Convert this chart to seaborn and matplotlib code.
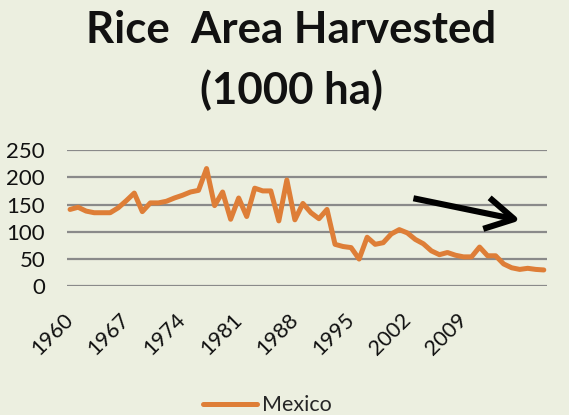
import matplotlib
matplotlib.use("Agg")
import matplotlib.pyplot as plt
import seaborn as sns
import pandas as pd

years = list(range(1960, 2020))
mexico = [141, 145, 138, 135, 135, 135, 144, 157, 171, 137,
          153, 153, 156, 162, 167, 173, 176, 216, 148, 173,
          123, 162, 128, 180, 175, 175, 120, 195, 122, 152,
          135, 124, 141, 77, 73, 71, 50, 90, 77, 80,
          96, 104, 98, 86, 78, 65, 58, 62, 57, 54,
          54, 72, 56, 56, 41, 34, 31, 33, 31, 30]
tick_years = [1960, 1967, 1974, 1981, 1988, 1995, 2002, 2009]
y_ticks = [0, 50, 100, 150, 200, 250]
series_name = "Mexico"
title_text = "Rice  Area Harvested\n(1000 ha)"

BG = "#ECEFE0"
LINE = "#DE7E37"
GRID = "#8A8A8A"

df = pd.DataFrame({"year": years, "value": mexico, "series": series_name})

sns.set_theme(style="white")
plt.rcParams["font.family"] = ["Lato", "DejaVu Sans"]

fig = plt.figure(figsize=(5.69, 4.15), dpi=100, facecolor=BG)
ax = fig.add_axes([0.1183, 0.3101, 0.8425, 0.3284])
ax.set_facecolor(BG)

sns.lineplot(data=df, x="year", y="value", hue="series", palette=[LINE],
             linewidth=3.6, ax=ax, legend=False)

ax.set_xlim(1959.66, 2019.36)
ax.set_ylim(0, 250)
ax.set_yticks(y_ticks)
ax.set_yticklabels([str(v) for v in y_ticks], fontsize=16, color="#111111")
ax.set_xticks(tick_years)
ax.set_xticklabels([str(v) for v in tick_years], fontsize=15.5, color="#111111",
                   rotation=45, ha="right", va="center", rotation_mode="anchor")
ax.tick_params(axis="y", length=0, pad=16)
ax.tick_params(axis="x", length=0, pad=22)
ax.yaxis.grid(True, color=GRID, linewidth=1.6)
ax.set_axisbelow(True)
for s in ax.spines.values():
    s.set_visible(False)
ax.set_xlabel("")
ax.set_ylabel("")

# trend arrow (axes fraction)
arrow_tail = (0.722, 0.646)
arrow_head = (0.945, 0.484)
ax.annotate("", xy=arrow_head, xytext=arrow_tail, xycoords="axes fraction",
            textcoords="axes fraction",
            arrowprops=dict(arrowstyle="->, head_length=1.7, head_width=0.95",
                            mutation_scale=12, color="black", lw=4.4,
                            shrinkA=0, shrinkB=0, capstyle="butt"))

fig.text(0.512, 0.976, title_text, ha="center", va="top", fontsize=31.5,
         fontweight="bold", linespacing=1.55, color="#111111")

handle = plt.Line2D([], [], color=LINE, linewidth=3.6)
fig.legend([handle], [series_name], loc="center", bbox_to_anchor=(0.47, 0.024),
           frameon=False, fontsize=15.5, handlelength=2.5, handletextpad=0.2)

fig.savefig("out.png", dpi=100, facecolor=BG)
